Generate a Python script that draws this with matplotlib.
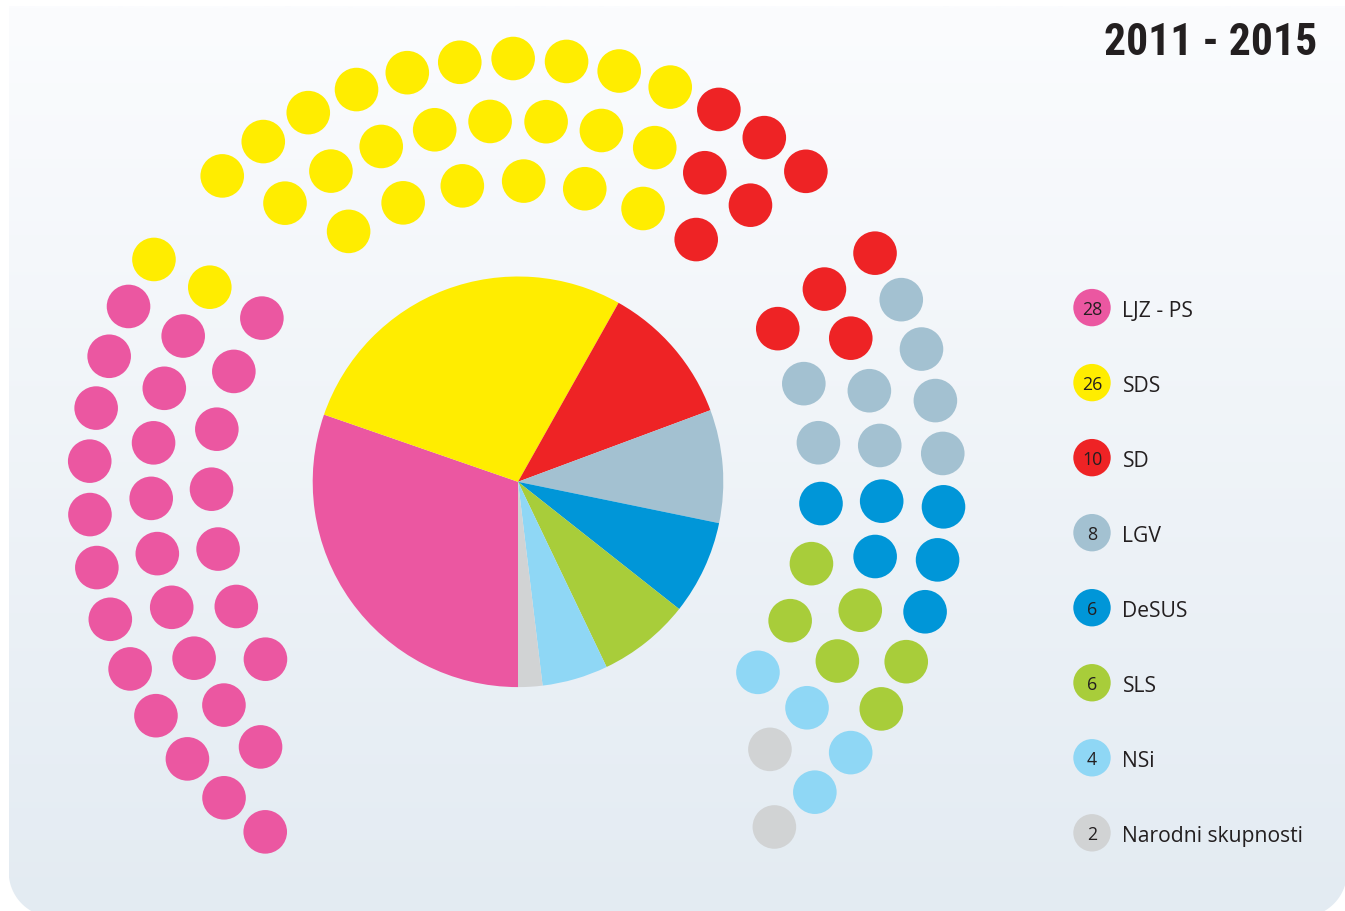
import numpy as np
import matplotlib
matplotlib.use("Agg")
import matplotlib.pyplot as plt
from matplotlib.patches import Circle, PathPatch
from matplotlib.path import Path
from matplotlib import font_manager as fm

# ---------------- data ----------------
parties = ["LJZ - PS", "SDS", "SD", "LGV", "DeSUS", "SLS", "NSi", "Narodni skupnosti"]
seats = [28, 26, 10, 8, 6, 6, 4, 2]
vote_share = [28.51, 26.19, 10.52, 8.37, 6.97, 6.83, 4.88, 1.8]   # pie slices
# seats per party on each ring of the seat diagram (outer, middle, inner)
seats_outer = [12, 11, 4, 4, 3, 2, 2, 1]
seats_middle = [9, 9, 4, 2, 2, 2, 1, 1]
seats_inner = [7, 6, 2, 2, 1, 2, 1, 0]
title = "2011 - 2015"

colors = ["#EB57A1", "#FFED00", "#EE2325", "#A3C1D1", "#0096D8",
          "#A8CD3A", "#8FD7F5", "#D1D3D4"]
TXT = "#231F20"

# ---------------- fonts ----------------
label_family = ["Open Sans", "DejaVu Sans"]
prefs = ["notosans-extracondensedblack", "notosans-extracondensedextrabold",
         "notosans-extracondensedbold", "liberationsansnarrow-bold",
         "notosans-condensedblack", "notosans-condensedextrabold",
         "robotocondensed-bold", "notosans-condensedbold",
         "dejavusanscondensed-bold"]
files = {}
for f in fm.fontManager.ttflist:
    base = f.fname.replace("\\", "/").split("/")[-1].lower().split(".")[0]
    files.setdefault(base, f.fname)
title_fp = None
for p in prefs:
    if p in files:
        title_fp = fm.FontProperties(fname=files[p])
        break
if title_fp is None:
    title_fp = fm.FontProperties(family="DejaVu Sans", weight="bold", stretch="condensed")

W, H = 1345, 912
fig = plt.figure(figsize=(W / 100, H / 100), dpi=100)
fig.patch.set_facecolor("white")
ax = fig.add_axes([0, 0, 1, 1])

# ---------------- background panel ----------------
x0, x1, ytop, ybot, rc = 8.7, 1347.0, H - 7.0, H - 918.0, 45.0
t = np.linspace(0, np.pi / 2, 30)
verts = [(x0, ytop), (x1, ytop)]
cxr, cyr = x1 - rc, ybot + rc
verts += [(cxr + rc * np.cos(a), cyr - rc * np.sin(a)) for a in t]
cxl, cyl = x0 + rc, ybot + rc
verts += [(cxl - rc * np.sin(a), cyl - rc * np.cos(a)) for a in t]
verts += [(x0, ytop)]
codes = [Path.MOVETO] + [Path.LINETO] * (len(verts) - 2) + [Path.CLOSEPOLY]
panel = PathPatch(Path(verts, codes), facecolor="none", edgecolor="none")
ax.add_patch(panel)
top_c = np.array([251, 252, 254]) / 255
bot_c = np.array([227, 235, 242]) / 255
g = np.linspace(0, 1, 256)[:, None]
grad = (bot_c[None, :] * (1 - g) + top_c[None, :] * g)[:, None, :]
im = ax.imshow(grad, extent=[x0, x1, ybot, ytop], origin="lower",
               aspect="auto", interpolation="bilinear", zorder=0)
im.set_clip_path(panel)

# ---------------- pie ----------------
ax.pie(vote_share, colors=colors, startangle=-90, counterclock=False,
       center=(518.0, H - 482.8), radius=205.3, frame=True,
       wedgeprops=dict(linewidth=0, zorder=2))

# ---------------- seat dots ----------------
cx, cy = 516.5, H - 487.0
ring_radius = [427.5, 365.5, 305.0]
ring_seats = [seats_outer, seats_middle, seats_inner]
# arcs for each ring (left, top, right), angles in degrees, clockwise order
ring_arcs = [
    [(234.0, 148.0), (133.5, 47.4), (33.0, -52.9)],
    [(225.55, 147.05), (129.3, 50.2), (32.6, -46.1)],
    [(214.6, 146.6), (123.4, 53.9), (31.06, -37.66)],
]
dot_r = 21.8
for r, alloc, arcs in zip(ring_radius, ring_seats, ring_arcs):
    seq = np.repeat(np.arange(len(parties)), alloc)
    n = len(seq) // len(arcs)
    ang = np.concatenate([np.linspace(a, b, n) for a, b in arcs])
    xs = cx + r * np.cos(np.radians(ang))
    ys = cy + r * np.sin(np.radians(ang))
    for x, y, p in zip(xs, ys, seq):
        ax.add_patch(Circle((x, y), dot_r, facecolor=colors[p],
                            edgecolor="none", zorder=3))

# ---------------- legend ----------------
leg_y = H - np.linspace(308.6, 833.8, len(parties))
for yy, name, s, c in zip(leg_y, parties, seats, colors):
    ax.add_patch(Circle((1092.0, yy), 18.7, facecolor=c, edgecolor="none", zorder=3))
    ax.text(1092.0, yy - 6.6, str(s), ha="center", va="baseline",
            fontsize=12.8, color=TXT, family=label_family, zorder=4)
    ax.text(1122.5, yy - 8.3, name, ha="left", va="baseline",
            fontsize=15.2, color=TXT, family=label_family, zorder=4)

# ---------------- title ----------------
ax.text(1317.5, H - 55.0, title, ha="right", va="baseline", fontsize=31.5,
        fontproperties=title_fp, color=TXT, zorder=4)

ax.set_xlim(0, W)
ax.set_ylim(0, H)
ax.set_aspect("auto")
ax.axis("off")
fig.savefig("out.png", dpi=100, facecolor="white")
